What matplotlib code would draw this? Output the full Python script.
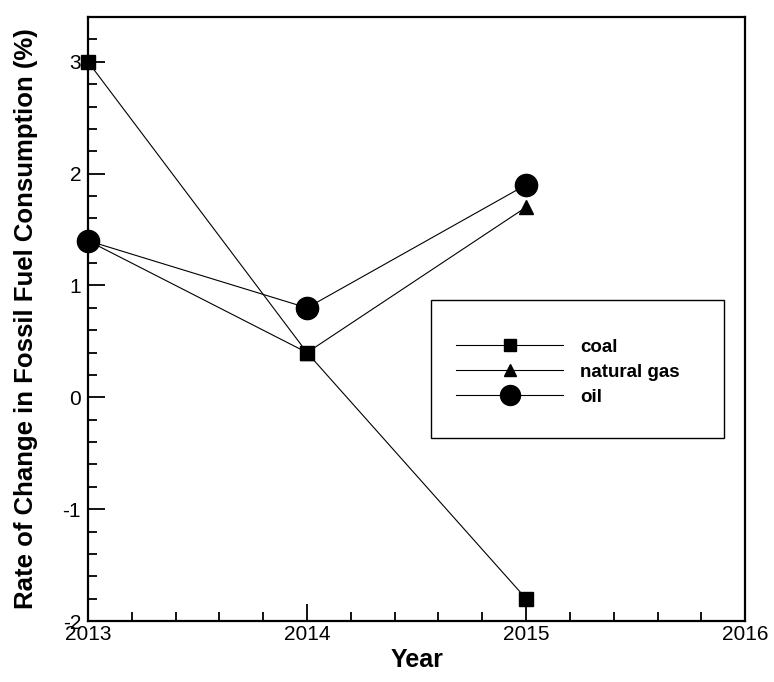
import numpy as np
import matplotlib.pyplot as plt
from matplotlib.patches import Rectangle
from matplotlib.ticker import MultipleLocator

plt.rcParams["axes.unicode_minus"] = False

# rate of change in fossil fuel consumption (%)
years = [2013, 2014, 2015]
coal = [3.0, 0.4, -1.8]
natural_gas = [1.4, 0.4, 1.7]
oil = [1.4, 0.8, 1.9]

x_ticks = [2013, 2014, 2015, 2016]
y_ticks = [-2, -1, 0, 1, 2, 3]

tick_font = ["Liberation Sans Narrow", "Liberation Sans", "DejaVu Sans"]
bold_font = ["Liberation Sans", "DejaVu Sans"]

fig = plt.figure(figsize=(7.74, 6.82), dpi=100)
ax = fig.add_axes([0.1137, 0.0894, 0.849, 0.8856])

ax.plot(years, coal, color="black", lw=0.8, marker="s", ms=10, clip_on=False, label="coal", zorder=3)
ax.plot(years, natural_gas, color="black", lw=0.8, marker="^", ms=10, clip_on=False, label="natural gas", zorder=3)
ax.plot(years, oil, color="black", lw=0.8, marker="o", ms=16, clip_on=False, label="oil", zorder=3)

ax.set_xlim(2013, 2016)
ax.set_ylim(-2, 3.4)
ax.set_xticks(x_ticks)
ax.set_yticks(y_ticks)
ax.xaxis.set_minor_locator(MultipleLocator(0.2))
ax.yaxis.set_minor_locator(MultipleLocator(0.2))
ax.tick_params(which="both", direction="in", width=1.3, top=False, right=False)
ax.tick_params(which="major", length=12)
ax.tick_params(which="minor", length=6.5)
ax.tick_params(axis="x", pad=3)
ax.tick_params(axis="y", pad=5)

for lab in ax.get_xticklabels() + ax.get_yticklabels():
    lab.set_fontfamily(tick_font)
    lab.set_fontsize(15)

for sp in ax.spines.values():
    sp.set_linewidth(1.6)

ax.set_xlabel("Year", fontsize=18, fontweight="bold", family=bold_font, labelpad=3)
ax.set_ylabel("Rate of Change in Fossil Fuel Consumption (%)", fontsize=18.5,
              fontweight="bold", family=bold_font, labelpad=18)

# legend frame drawn separately so the box can be larger than its entries
ax.add_patch(Rectangle((0.522, 0.303), 0.446, 0.228, transform=ax.transAxes,
                       fill=False, edgecolor="black", lw=1.0, zorder=4))
ax.legend(loc="center left", bbox_to_anchor=(0.535, 0.412), frameon=False,
          handlelength=5.7, handletextpad=0.9, labelspacing=0.42,
          prop={"family": bold_font, "weight": "bold", "size": 13.5},
          markerscale=0.9)

fig.savefig("out.png", dpi=100)
